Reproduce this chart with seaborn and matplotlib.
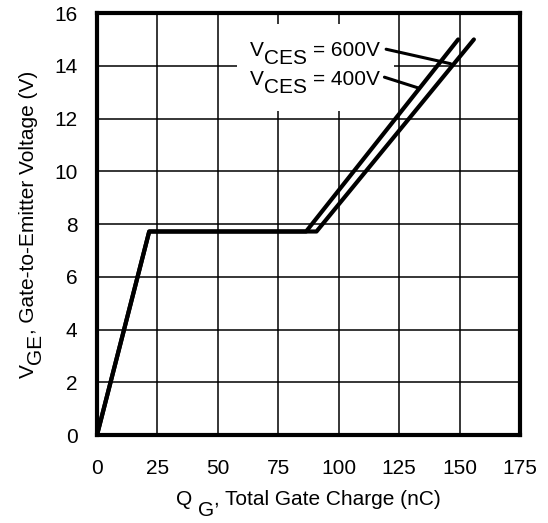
import pandas as pd
import matplotlib
matplotlib.use("Agg")
import matplotlib.pyplot as plt
import seaborn as sns
from matplotlib.patches import Rectangle
from matplotlib.transforms import IdentityTransform

# Gate charge curves
q_600 = [0, 21.6, 90.8, 155.9]
v_600 = [0, 7.72, 7.72, 15.0]
q_400 = [0, 21.6, 86.5, 149.4]
v_400 = [0, 7.72, 7.72, 15.0]

x_ticks = [0, 25, 50, 75, 100, 125, 150, 175]
y_ticks = [0, 2, 4, 6, 8, 10, 12, 14, 16]

df = pd.concat([
    pd.DataFrame({"qg": q_600, "vge": v_600, "vces": "600V"}),
    pd.DataFrame({"qg": q_400, "vge": v_400, "vces": "400V"}),
])

sns.set_theme(style="white")
plt.rcParams["font.family"] = ["Liberation Sans", "DejaVu Sans"]

fig = plt.figure(figsize=(5.48, 5.23), dpi=100)
ax = fig.add_axes([0.177, 0.168, 0.772, 0.807])
renderer = fig.canvas.get_renderer()


def rich_text(parts, x, y, size, rotation=0, center=False):
    # parts: (text, drop in px, gap before in px); full-size "subscripts"
    widths = []
    for s, _, _ in parts:
        t = fig.text(0, 0, s, fontsize=size)
        widths.append(t.get_window_extent(renderer).width)
        t.remove()
    total = sum(w + g for w, (_, _, g) in zip(widths, parts))
    pos = -total / 2 if center else 0
    for w, (s, drop, gap) in zip(widths, parts):
        pos += gap
        if rotation == 0:
            px, py = x + pos, y - drop
        else:
            px, py = x + drop, y + pos
        fig.text(px, py, s, fontsize=size, color="black", transform=IdentityTransform(),
                 rotation=rotation, rotation_mode="anchor", ha="left", va="baseline")
        pos += w


ax.set_axisbelow(True)
ax.grid(True, color="black", lw=1.1)

sns.lineplot(data=df, x="qg", y="vge", hue="vces", units="vces", estimator=None,
             sort=False, palette=["black", "black"], lw=3.0, legend=False, ax=ax,
             zorder=3)
ax.set_xlabel("")
ax.set_ylabel("")

# white box behind the labels
ax.add_patch(Rectangle((58, 12.3), 65, 3.3, facecolor="white", edgecolor="none", zorder=1))

ax.set_xlim(0, 175)
ax.set_ylim(0, 16)
ax.set_xticks(x_ticks)
ax.set_yticks(y_ticks)
ax.tick_params(length=0, labelsize=15, colors="black")
ax.tick_params(axis="x", pad=17)
ax.tick_params(axis="y", pad=14)

for s in ax.spines.values():
    s.set_color("black")
    s.set_linewidth(3.0)

ax.annotate("", xy=(146.3, 14.08), xytext=(119.6, 14.63),
            arrowprops=dict(arrowstyle="-", lw=2.2, color="black", shrinkA=0, shrinkB=0), zorder=4)
ax.annotate("", xy=(133.3, 13.15), xytext=(118.9, 13.57),
            arrowprops=dict(arrowstyle="-", lw=2.2, color="black", shrinkA=0, shrinkB=0), zorder=4)

sp = 15 / 72 * 100 * 0.278
for label, yv in [("= 600V", 14.39), ("= 400V", 13.26)]:
    lx, ly = ax.transData.transform((63.3, yv))
    rich_text([("V", 0, 0), ("CES", 8, 0), (label, 0, sp)], lx, ly, 15)

bb = ax.get_position()
W, H = fig.get_size_inches() * fig.dpi
rich_text([("Q", 0, 0), ("G", 11, sp), (", Total Gate Charge (nC)", 0, 0)],
          (bb.x0 + bb.x1) / 2 * W, 18, 15, center=True)
rich_text([("V", 0, 0), ("GE", 7, 0), (", Gate-to-Emitter Voltage (V)", 0, 0)],
          34, (bb.y0 + bb.y1) / 2 * H, 15, rotation=90, center=True)

plt.savefig("out.png", dpi=100)
